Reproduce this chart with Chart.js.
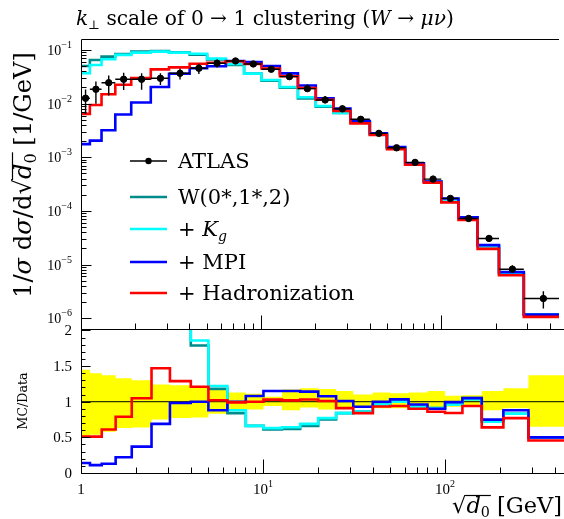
<!DOCTYPE html>
<html><head><meta charset="utf-8">
<script src="https://cdn.jsdelivr.net/npm/chart.js"></script>
<style>
html,body{margin:0;padding:0;background:#fff;}
#wrap{position:relative;width:564px;height:519px;overflow:hidden;background:#fff;}
canvas{position:absolute;left:0;top:0;}
</style></head><body>
<div id="wrap"><canvas id="main" width="564" height="519"></canvas><canvas id="ratio" width="564" height="519"></canvas></div>
<script>
// ---- data ----
const binEdges = [1, 1.12, 1.3, 1.55, 1.9, 2.44, 3.08, 4.01, 5.01, 6.37, 8.04, 10.05, 12.7, 16, 20.1, 25.2, 31.3, 40.1, 49.9, 63, 80, 100, 124.5, 159, 209, 287, 450];
const atlasValues = [0.0126, 0.0185, 0.0245, 0.0284, 0.0284, 0.0296, 0.0367, 0.0456, 0.0565, 0.0623, 0.0548, 0.0437, 0.0318, 0.0190, 0.0117, 0.0080, 0.0051, 0.00279, 0.00150, 0.000803, 0.000392, 0.000171, 7.24e-5, 3.07e-5, 8.2e-6, 2.33e-6];
const atlasRelUp = [1.45, 1.40, 1.37, 1.33, 1.30, 1.24, 1.23, 1.21, 1.18, 1.13, 1.11, 1.07, 1.17, 1.19, 1.18, 1.15, 1.10, 1.13, 1.12, 1.13, 1.15, 1.085, 1.09, 1.15, 1.19, 1.37];
const atlasRelDown = [0.51, 0.535, 0.58, 0.63, 0.64, 0.75, 0.77, 0.78, 0.83, 0.88, 0.89, 0.94, 0.88, 0.92, 0.89, 0.91, 0.93, 0.91, 0.91, 0.91, 0.90, 0.93, 0.94, 0.88, 0.91, 0.65];
const w012Values = [0.0502, 0.065, 0.075, 0.084, 0.093, 0.095, 0.090, 0.0816, 0.0667, 0.0523, 0.0362, 0.0267, 0.0197, 0.01254, 0.00878, 0.00672, 0.00439, 0.00268, 0.00150, 0.000747, 0.000357, 0.000166, 7.6e-5, 2.21e-5, 6.81e-6, 1.165e-6];
const kgValues = [0.0367, 0.0525, 0.067, 0.081, 0.089, 0.093, 0.089, 0.0848, 0.0689, 0.0548, 0.0362, 0.0275, 0.0204, 0.0131, 0.0090, 0.00672, 0.00439, 0.00268, 0.00150, 0.000747, 0.000357, 0.000164, 7.46e-5, 2.21e-5, 6.81e-6, 1.165e-6];
const mpiValues = [0.00176, 0.00204, 0.00319, 0.00625, 0.0105, 0.0204, 0.0360, 0.0456, 0.0497, 0.0623, 0.0592, 0.0503, 0.0366, 0.0217, 0.0126, 0.00808, 0.00474, 0.00279, 0.00155, 0.000771, 0.000353, 0.000170, 7.6e-5, 2.30e-5, 7.22e-6, 1.165e-6];
const hadValues = [0.00643, 0.00944, 0.01495, 0.0224, 0.0298, 0.0435, 0.0473, 0.0552, 0.0576, 0.0617, 0.0548, 0.0450, 0.0324, 0.0196, 0.01182, 0.00728, 0.00428, 0.00260, 0.00141, 0.000723, 0.000337, 0.000144, 6.81e-5, 1.965e-5, 6.31e-6, 1.06e-6];
const yTickExponents = [-1, -2, -3, -4, -5, -6];
const ratioTickLabels = ['0', '0.5', '1', '1.5', '2'];
const ratioTickValues = [0, 0.5, 1, 1.5, 2];
const xTickDecades = [1, 10, 100];
const xTickExponents = ['', '1', '2'];

const COL = {w012:'#008b8b', kg:'#00ffff', mpi:'#0000ff', had:'#ff0000'};
const FONT_TXT = '"DejaVu Serif", "Liberation Serif", serif';
const FONT_NUM = '"Liberation Serif", "DejaVu Serif", serif';
function font(s, it, fam){ return (it ? 'italic ' : '') + s + 'px ' + (fam || FONT_TXT); }
function drawRich(ctx, parts, x, y, align, fit, fam){
  ctx.textAlign = 'left'; ctx.textBaseline = 'alphabetic';
  const measure = k => { let w = 0; const ws = []; parts.forEach(p => { ctx.font = font(p.s*k, p.it, fam); const m = ctx.measureText(p.t).width; ws.push(m); w += m; }); return {w, ws}; };
  let k = 1; let r = measure(1);
  if (fit){ k = fit / r.w; r = measure(k); }
  let cx = align === 'center' ? x - r.w/2 : align === 'right' ? x - r.w : x;
  const pos = [];
  parts.forEach((p, i) => { ctx.font = font(p.s*k, p.it, fam); ctx.fillText(p.t, cx, y + (p.dy||0)*k); pos.push([cx, cx + r.ws[i]]); cx += r.ws[i]; });
  pos.k = k;
  return pos;
}
function steps(vals){ const pts = vals.map((v,i)=>({x: binEdges[i], y: v})); pts.push({x: binEdges[vals.length], y: vals[vals.length-1]}); return pts; }
const mids = binEdges.slice(0,-1).map((e,i)=>(e + binEdges[i+1]) / 2);
const px = v => Math.round(v) + 0.5;

function drawXTicks(ctx, xs, yBase, majLen, minLen){
  ctx.beginPath();
  for (const d of xTickDecades){
    for (let k = 1; k <= 9; k++){
      const v = d*k; if (v < xs.min || v > xs.max) continue;
      const x = px(xs.getPixelForValue(v));
      ctx.moveTo(x, yBase); ctx.lineTo(x, yBase - (k===1 ? majLen : minLen));
    }
  }
  ctx.stroke();
}

const mainDecor = {
  id: 'mainDecor',
  afterDatasetsDraw(chart){
    const {ctx, chartArea: a, scales: {x: xs, y: ys}} = chart;
    ctx.save();
    ctx.beginPath(); ctx.rect(a.left, a.top, a.right - a.left, a.bottom - a.top); ctx.clip();
    ctx.strokeStyle = '#000'; ctx.lineWidth = 1.4;
    atlasValues.forEach((v, i) => {
      const xm = xs.getPixelForValue(mids[i]);
      const xl = xs.getPixelForValue(binEdges[i]), xr = xs.getPixelForValue(binEdges[i+1]);
      const yv = ys.getPixelForValue(v), yu = ys.getPixelForValue(v*atlasRelUp[i]), yd = ys.getPixelForValue(v*atlasRelDown[i]);
      ctx.beginPath(); ctx.moveTo(xm, yu); ctx.lineTo(xm, yd); ctx.moveTo(xl, yv); ctx.lineTo(xr, yv); ctx.stroke();
    });
    ctx.restore();
  },
  afterDraw(chart){
    const {ctx, chartArea: a, scales: {x: xs, y: ys}} = chart;
    ctx.save();
    ctx.strokeStyle = '#000'; ctx.fillStyle = '#000'; ctx.lineWidth = 1;
    ctx.beginPath();
    ctx.moveTo(px(a.left), px(a.top)); ctx.lineTo(a.right, px(a.top));
    ctx.moveTo(px(a.left), px(a.top)); ctx.lineTo(px(a.left), px(a.bottom));
    ctx.moveTo(px(a.left), px(a.bottom)); ctx.lineTo(a.right, px(a.bottom));
    ctx.stroke();
    ctx.beginPath();
    for (const e of yTickExponents){
      for (let k = 1; k <= 9; k++){
        const v = k*Math.pow(10, e); if (v < ys.min || v > ys.max) continue;
        const y = px(ys.getPixelForValue(v));
        ctx.moveTo(px(a.left), y); ctx.lineTo(px(a.left) + (k===1 ? 10 : 5), y);
      }
    }
    ctx.stroke();
    drawXTicks(ctx, xs, px(a.bottom), 14, 6);
    for (const e of yTickExponents){
      const y = ys.getPixelForValue(Math.pow(10, e));
      drawRich(ctx, [{t:'10', s:14}, {t:'\u2212' + (-e), s:10, dy:-7}], 72, y + 5, 'right', 0, FONT_NUM);
    }
    drawRich(ctx, [
      {t:'k', s:21, it:true}, {t:'\u22A5', s:13, dy:4}, {t:' scale of 0 \u2192 1 clustering (', s:21},
      {t:'W', s:21, it:true}, {t:' \u2192 ', s:21}, {t:'\u03BC\u03BD', s:21, it:true}, {t:')', s:21}
    ], 76, 25, 'left', 378);
    ctx.save(); ctx.translate(31, 175); ctx.rotate(-Math.PI/2);
    const pos = drawRich(ctx, [
      {t:'1/', s:21}, {t:'\u03C3', s:21, it:true}, {t:' d', s:21}, {t:'\u03C3', s:21, it:true}, {t:'/d', s:21},
      {t:'\u221A', s:21}, {t:'d', s:21, it:true}, {t:'0', s:14, dy:4}, {t:' [1/GeV]', s:21}
    ], 0, 0, 'center', 246);
    ctx.beginPath(); ctx.lineWidth = 1.2; const oy = -Math.round(0.8*21*pos.k) + 0.5;
    ctx.moveTo(pos[5][1] - 1, oy); ctx.lineTo(pos[7][1] + 1, oy); ctx.stroke();
    ctx.restore();
    const L = [
      {y:161, color:'#000', data:true, parts:[{t:'ATLAS', s:21}]},
      {y:197, color:COL.w012, parts:[{t:'W(0*,1*,2)', s:21}]},
      {y:229, color:COL.kg, parts:[{t:'+ ', s:21}, {t:'K', s:21, it:true}, {t:'g', s:14, it:true, dy:5}]},
      {y:262, color:COL.mpi, parts:[{t:'+ MPI', s:21}]},
      {y:293, color:COL.had, parts:[{t:'+ Hadronization', s:21}]}
    ];
    for (const e of L){
      ctx.beginPath(); ctx.strokeStyle = e.color; ctx.lineWidth = e.data ? 1.3 : 2.6;
      ctx.moveTo(130, e.y); ctx.lineTo(167, e.y); ctx.stroke();
      if (e.data){ ctx.beginPath(); ctx.fillStyle = '#000'; ctx.arc(148.5, e.y, 3.2, 0, Math.PI*2); ctx.fill(); }
      ctx.fillStyle = '#000';
      drawRich(ctx, e.parts, 178, e.y + 7, 'left');
    }
    ctx.restore();
  }
};

const ratioDecor = {
  id: 'ratioDecor',
  afterDraw(chart){
    const {ctx, chartArea: a, scales: {x: xs, y: ys}} = chart;
    ctx.save();
    ctx.strokeStyle = '#000'; ctx.fillStyle = '#000'; ctx.lineWidth = 1;
    ctx.beginPath();
    ctx.moveTo(px(a.left), px(a.top)); ctx.lineTo(a.right, px(a.top));
    ctx.moveTo(px(a.left), px(a.top)); ctx.lineTo(px(a.left), px(a.bottom));
    ctx.moveTo(px(a.left), px(a.bottom)); ctx.lineTo(a.right, px(a.bottom));
    ctx.stroke();
    ctx.beginPath();
    for (let i = 0; i <= 20; i++){
      const v = i/10; const y = px(ys.getPixelForValue(v));
      ctx.moveTo(px(a.left), y); ctx.lineTo(px(a.left) + (i % 5 === 0 ? 9 : 4), y);
    }
    ctx.stroke();
    drawXTicks(ctx, xs, px(a.bottom), 14, 6);
    ratioTickValues.forEach((v, i) => {
      drawRich(ctx, [{t: ratioTickLabels[i], s:15}], 72, ys.getPixelForValue(v) + 5, 'right', 0, FONT_NUM);
    });
    xTickDecades.forEach((d, i) => {
      const x = xs.getPixelForValue(d);
      if (xTickExponents[i] === '') drawRich(ctx, [{t:'1', s:15}], x, 494, 'center', 0, FONT_NUM);
      else drawRich(ctx, [{t:'10', s:15}, {t:xTickExponents[i], s:10, dy:-7}], x, 494, 'center', 0, FONT_NUM);
    });
    ctx.save(); ctx.translate(27, 401); ctx.rotate(-Math.PI/2);
    drawRich(ctx, [{t:'MC/Data', s:14}], 0, 0, 'center', 57);
    ctx.restore();
    const pos = drawRich(ctx, [{t:'\u221A', s:22}, {t:'d', s:22, it:true}, {t:'0', s:14, dy:4}, {t:' [GeV]', s:22}], 562, 513, 'right', 110);
    ctx.beginPath(); ctx.lineWidth = 1.2; const oy = 513 - Math.round(0.8*22*pos.k) + 0.5;
    ctx.moveTo(pos[0][1] - 1, oy); ctx.lineTo(pos[2][1] + 1, oy); ctx.stroke();
    ctx.restore();
  }
};

function mkMain(vals, color, order){
  return {data: steps(vals), stepped: 'before', borderColor: color, borderWidth: 2.6, pointRadius: 0, fill: false, order};
}
function mkRatio(vals, color, order){
  return {data: steps(vals.map((v,i)=>v/atlasValues[i])), stepped: 'before', borderColor: color, borderWidth: 2.6, pointRadius: 0, fill: false, order, clip: {left: 3, top: 0, right: 3, bottom: 3}};
}
const common = {responsive: false, animation: false, devicePixelRatio: 1, events: [],
  plugins: {legend: {display: false}, tooltip: {enabled: false}, title: {display: false}}};

new Chart(document.getElementById('main'), {
  type: 'line',
  data: {datasets: [
    {data: mids.map((x,i)=>({x, y: atlasValues[i]})), showLine: false, pointRadius: 3.2, pointBackgroundColor: '#000', pointBorderColor: '#000', borderColor: '#000', order: 0},
    mkMain(hadValues, COL.had, 1), mkMain(mpiValues, COL.mpi, 2), mkMain(kgValues, COL.kg, 3), mkMain(w012Values, COL.w012, 4)
  ]},
  options: Object.assign({}, common, {
    layout: {padding: {left: 81, right: 0, top: 39, bottom: 190}},
    scales: {
      x: {type: 'logarithmic', min: 1, max: 450, display: false, bounds: 'data'},
      y: {type: 'logarithmic', min: 6.3e-7, max: 0.16, display: false, bounds: 'data'}
    }
  }),
  plugins: [mainDecor]
});

new Chart(document.getElementById('ratio'), {
  type: 'line',
  data: {datasets: [
    mkRatio(hadValues, COL.had, 1), mkRatio(mpiValues, COL.mpi, 2), mkRatio(kgValues, COL.kg, 3), mkRatio(w012Values, COL.w012, 4),
    {data: [{x: 1, y: 1}, {x: 450, y: 1}], borderColor: '#000', borderWidth: 1, pointRadius: 0, fill: false, order: 10},
    {data: steps(atlasRelUp), stepped: 'before', fill: '+1', backgroundColor: '#ffff00', borderColor: 'rgba(0,0,0,0)', borderWidth: 0, pointRadius: 0, order: 20},
    {data: steps(atlasRelDown), stepped: 'before', fill: false, borderColor: 'rgba(0,0,0,0)', borderWidth: 0, pointRadius: 0, order: 21}
  ]},
  options: Object.assign({}, common, {
    layout: {padding: {left: 81, right: 0, top: 329, bottom: 46}},
    scales: {
      x: {type: 'logarithmic', min: 1, max: 450, display: false, bounds: 'data'},
      y: {type: 'linear', min: 0, max: 2.02, display: false}
    }
  }),
  plugins: [ratioDecor]
});
</script>
</body></html>
